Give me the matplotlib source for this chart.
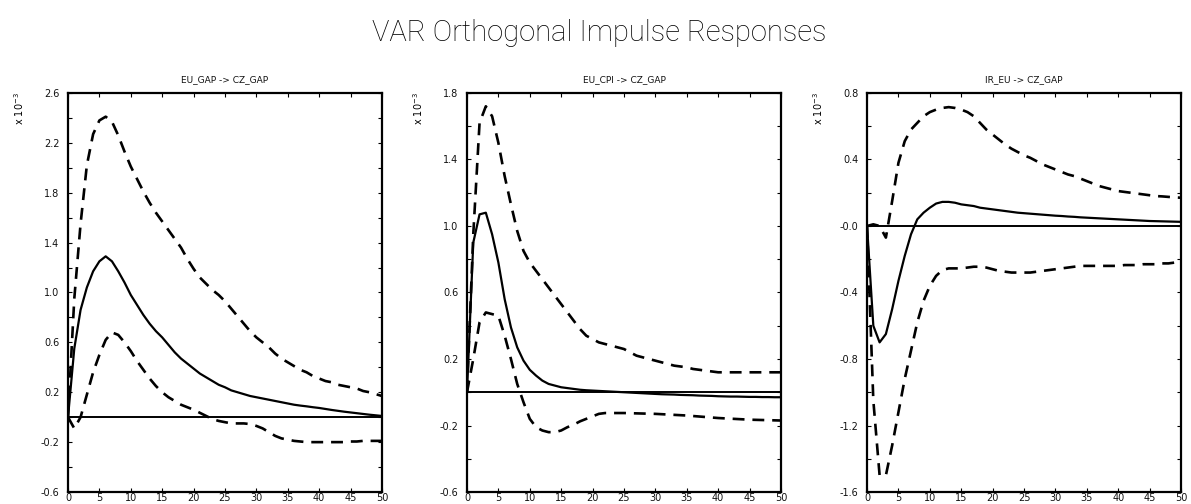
import numpy as np
import matplotlib as mpl
mpl.use('Agg')
import matplotlib.pyplot as plt

# impulse responses of CZ_GAP (x 1e-3) over 50 periods, with 95% bands
periods = np.arange(51)

shocks = ['EU_GAP', 'EU_CPI', 'IR_EU']

gap_resp = [0.0, 0.55, 0.86, 1.04, 1.17, 1.25, 1.29, 1.25, 1.17, 1.08,
            0.98, 0.90, 0.82, 0.75, 0.69, 0.64, 0.58, 0.52, 0.47, 0.43,
            0.39, 0.35, 0.32, 0.29, 0.26, 0.24, 0.215, 0.20, 0.185, 0.17,
            0.16, 0.15, 0.14, 0.13, 0.12, 0.11, 0.10, 0.093, 0.087, 0.08,
            0.074, 0.066, 0.058, 0.051, 0.044, 0.038, 0.032, 0.026, 0.02, 0.015,
            0.01]
gap_upper = [0.0, 0.95, 1.55, 2.02, 2.27, 2.38, 2.41, 2.37, 2.26, 2.13,
             2.01, 1.91, 1.81, 1.72, 1.64, 1.57, 1.50, 1.43, 1.36, 1.27,
             1.19, 1.12, 1.07, 1.02, 0.98, 0.93, 0.87, 0.81, 0.75, 0.69,
             0.64, 0.60, 0.56, 0.51, 0.47, 0.44, 0.41, 0.38, 0.36, 0.33,
             0.31, 0.29, 0.28, 0.26, 0.25, 0.24, 0.23, 0.21, 0.20, 0.185,
             0.17]
gap_lower = [0.0, -0.09, 0.0, 0.18, 0.36, 0.50, 0.62, 0.68, 0.66, 0.60,
             0.53, 0.45, 0.38, 0.31, 0.25, 0.20, 0.16, 0.13, 0.10, 0.08,
             0.06, 0.035, 0.01, -0.015, -0.03, -0.04, -0.05, -0.05, -0.05, -0.055,
             -0.07, -0.09, -0.12, -0.15, -0.17, -0.18, -0.19, -0.195, -0.2, -0.2,
             -0.2, -0.2, -0.2, -0.2, -0.2, -0.195, -0.195, -0.19, -0.19, -0.19,
             -0.19]

cpi_resp = [0.0, 0.90, 1.07, 1.08, 0.95, 0.78, 0.56, 0.39, 0.27, 0.19,
            0.135, 0.10, 0.07, 0.05, 0.04, 0.03, 0.025, 0.02, 0.015, 0.012,
            0.01, 0.008, 0.006, 0.004, 0.002, 0.0, -0.002, -0.004, -0.006, -0.008,
            -0.01, -0.012, -0.013, -0.014, -0.016, -0.017, -0.018, -0.02, -0.021, -0.022,
            -0.024, -0.025, -0.026, -0.026, -0.027, -0.028, -0.028, -0.029, -0.029, -0.03,
            -0.03]
cpi_upper = [0.0, 0.95, 1.62, 1.72, 1.66, 1.50, 1.30, 1.13, 0.97, 0.85,
             0.78, 0.73, 0.68, 0.63, 0.58, 0.53, 0.48, 0.43, 0.38, 0.34,
             0.32, 0.30, 0.29, 0.28, 0.27, 0.26, 0.24, 0.22, 0.21, 0.20,
             0.19, 0.18, 0.17, 0.16, 0.155, 0.15, 0.14, 0.135, 0.13, 0.125,
             0.12, 0.12, 0.12, 0.12, 0.12, 0.12, 0.12, 0.12, 0.12, 0.12,
             0.12]
cpi_lower = [0.0, 0.20, 0.42, 0.48, 0.47, 0.46, 0.34, 0.20, 0.05, -0.06,
             -0.16, -0.21, -0.23, -0.24, -0.24, -0.23, -0.21, -0.195, -0.175, -0.16,
             -0.145, -0.13, -0.125, -0.125, -0.125, -0.125, -0.126, -0.127, -0.128, -0.129,
             -0.13, -0.132, -0.134, -0.136, -0.138, -0.14, -0.143, -0.146, -0.149, -0.152,
             -0.155, -0.157, -0.159, -0.161, -0.163, -0.165, -0.166, -0.167, -0.168, -0.169,
             -0.17]

ir_resp = [0.0, -0.60, -0.70, -0.65, -0.50, -0.33, -0.18, -0.05, 0.04, 0.08,
           0.11, 0.135, 0.145, 0.145, 0.14, 0.13, 0.125, 0.12, 0.11, 0.105,
           0.10, 0.095, 0.09, 0.085, 0.08, 0.077, 0.074, 0.071, 0.068, 0.065,
           0.062, 0.06, 0.057, 0.055, 0.052, 0.05, 0.048, 0.046, 0.044, 0.042,
           0.04, 0.038, 0.036, 0.034, 0.032, 0.03, 0.029, 0.028, 0.027, 0.026,
           0.025]
ir_upper = [0.0, 0.01, 0.0, -0.07, 0.15, 0.38, 0.51, 0.58, 0.62, 0.66,
            0.685, 0.70, 0.71, 0.715, 0.71, 0.70, 0.685, 0.66, 0.62, 0.58,
            0.55, 0.52, 0.49, 0.465, 0.445, 0.425, 0.41, 0.39, 0.37, 0.355,
            0.34, 0.325, 0.31, 0.30, 0.285, 0.27, 0.255, 0.24, 0.23, 0.22,
            0.21, 0.205, 0.20, 0.195, 0.19, 0.185, 0.18, 0.178, 0.175, 0.172,
            0.17]
ir_lower = [0.0, -1.05, -1.50, -1.50, -1.32, -1.12, -0.92, -0.75, -0.58, -0.45,
            -0.36, -0.30, -0.265, -0.255, -0.255, -0.255, -0.25, -0.245, -0.245, -0.25,
            -0.26, -0.27, -0.275, -0.28, -0.28, -0.28, -0.28, -0.275, -0.27, -0.265,
            -0.26, -0.255, -0.25, -0.245, -0.24, -0.24, -0.24, -0.24, -0.24, -0.24,
            -0.24, -0.235, -0.235, -0.235, -0.23, -0.23, -0.23, -0.225, -0.225, -0.22,
            -0.22]

ylims = [(-0.6, 2.6), (-0.6, 1.8), (-1.6, 0.8)]
ylabels = [['-0.6', '-0.2', '0.2', '0.6', '1.0', '1.4', '1.8', '2.2', '2.6'],
           ['-0.6', '-0.2', '0.2', '0.6', '1.0', '1.4', '1.8'],
           ['-1.6', '-1.2', '-0.8', '-0.4', '-0.0', '0.4', '0.8']]
xlabels = ['0', '5', '10', '15', '20', '25', '30', '35', '40', '45', '50']

series = [(gap_resp, gap_upper, gap_lower),
          (cpi_resp, cpi_upper, cpi_lower),
          (ir_resp, ir_upper, ir_lower)]

lefts = [0.0571, 0.3921, 0.7280]

fig = plt.figure(figsize=(11.91, 5.04), dpi=100)

fig.text(0.503, 0.935, 'VAR Orthogonal Impulse Responses', ha='center',
         va='center', fontsize=21, family='Roboto', fontweight='light',
         color='black')

for i in range(3):
    ax = fig.add_axes([lefts[i], 0.0238, 0.2636, 0.7917])
    resp, up, lo = series[i]
    ax.plot(periods, resp, color='k', lw=1.6, solid_capstyle='butt')
    ax.plot(periods, up, color='k', lw=1.9, dashes=(4.5, 3))
    ax.plot(periods, lo, color='k', lw=1.9, dashes=(4.5, 3))
    ax.axhline(0.0, color='k', lw=1.4)

    y0, y1 = ylims[i]
    ax.set_xlim(0, 50)
    ax.set_ylim(y0, y1)
    yt = np.linspace(y0, y1, len(ylabels[i]))
    ax.set_yticks(yt)
    ax.set_yticklabels(ylabels[i])
    ax.set_yticks(np.linspace(y0, y1, 2*len(ylabels[i]) - 1), minor=True)
    ax.set_xticks(np.arange(0, 51, 5))
    ax.set_xticklabels(xlabels)

    ax.tick_params(which='both', direction='in', left=True, right=True,
                   top=True, bottom=True, width=0.8, labelsize=7,
                   labelcolor='#111111')
    ax.tick_params(which='major', length=3)
    ax.tick_params(which='minor', length=3)
    ax.tick_params(axis='x', pad=1)
    ax.tick_params(axis='y', pad=6)
    for s in ax.spines.values():
        s.set_linewidth(1.6)

    ax.set_title(shocks[i] + ' -> CZ_GAP', fontsize=6.5, pad=8,
                 color='#111111')
    ax.text(-0.155, 0.96, r'x 10$^{-3}$', transform=ax.transAxes,
            rotation=90, ha='center', va='center', fontsize=7)

plt.savefig('out.png', dpi=100)
